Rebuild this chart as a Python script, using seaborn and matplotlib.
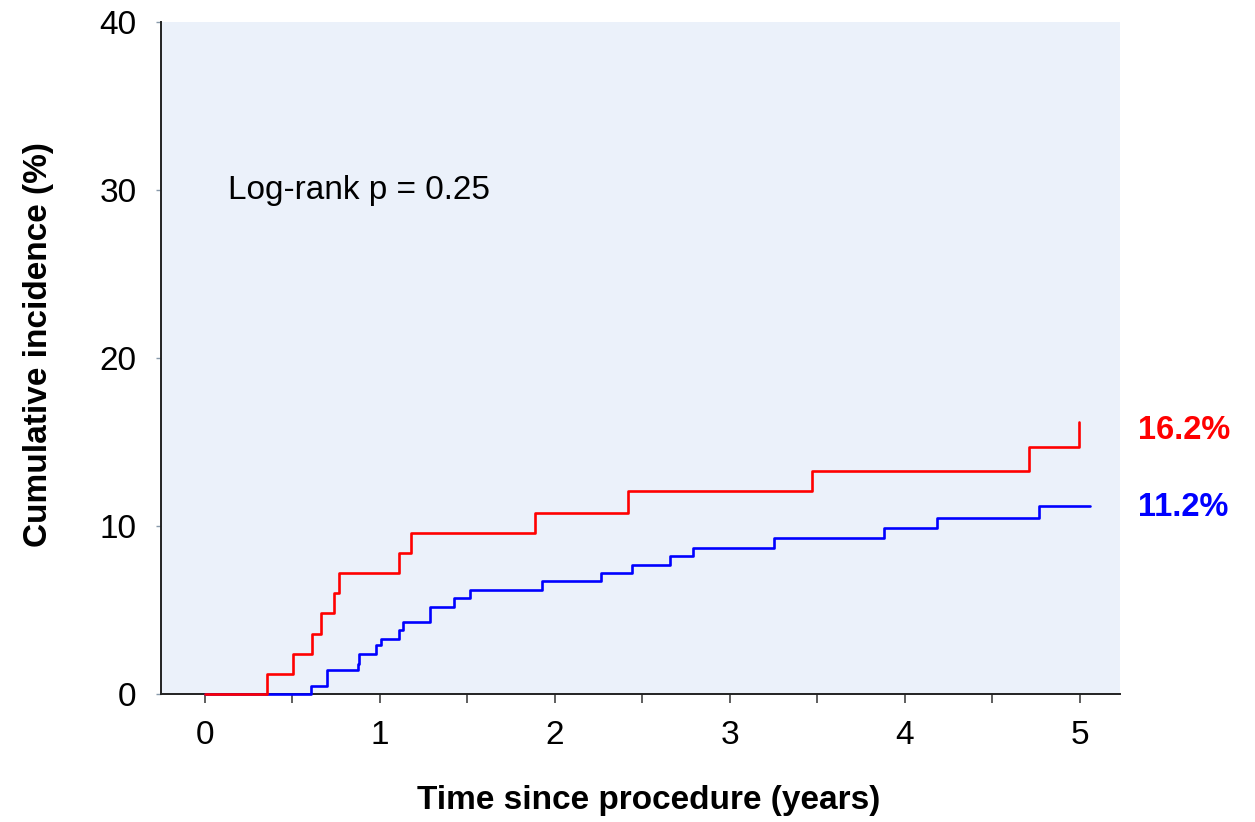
import matplotlib
matplotlib.use("Agg")
import matplotlib.pyplot as plt
from matplotlib.ticker import MultipleLocator
import seaborn as sns
import pandas as pd

# ---- data ----
red_time = [0, 0.354, 0.505, 0.613, 0.661, 0.735, 0.764, 1.11, 1.18, 1.888,
            2.42, 3.47, 4.71, 4.996]
red_inc = [0, 1.2, 2.4, 3.6, 4.8, 6.0, 7.2, 8.4, 9.6, 10.8,
           12.1, 13.3, 14.7, 16.2]

blue_time = [0, 0.608, 0.697, 0.872, 0.88, 0.979, 1.006, 1.11, 1.131, 1.286,
             1.423, 1.516, 1.924, 2.261, 2.442, 2.659, 2.79, 3.253, 3.882,
             4.185, 4.766, 5.057]
blue_inc = [0, 0.5, 1.4, 1.8, 2.4, 2.9, 3.3, 3.8, 4.3, 5.2,
            5.7, 6.2, 6.7, 7.2, 7.7, 8.2, 8.7, 9.3, 9.9,
            10.5, 11.2, 11.2]

x_ticks = [0, 1, 2, 3, 4, 5]
y_ticks = [0, 10, 20, 30, 40]
end_labels = ["16.2%", "11.2%"]
pvalue_text = "Log-rank p = 0.25"
x_label = "Time since procedure (years)"
y_label = "Cumulative incidence (%)"

df = pd.concat([
    pd.DataFrame({"t": blue_time, "inc": blue_inc, "group": "B"}),
    pd.DataFrame({"t": red_time, "inc": red_inc, "group": "A"}),
], ignore_index=True)

sns.set_style("ticks")
plt.rcParams["font.family"] = ["Liberation Sans", "DejaVu Sans"]
plt.rcParams["text.color"] = "black"
plt.rcParams["axes.labelcolor"] = "black"
plt.rcParams["xtick.labelcolor"] = "black"
plt.rcParams["ytick.labelcolor"] = "black"

fig = plt.figure(figsize=(12.55, 8.22), dpi=100)
ax = fig.add_axes([161 / 1255, 1 - 694 / 822, (1120 - 161) / 1255, (694 - 22) / 822])
ax.set_facecolor("#EBF1FA")

palette = {"A": "#FF0000", "B": "#0000FF"}
sns.lineplot(data=df, x="t", y="inc", hue="group", hue_order=["B", "A"],
             palette=palette, drawstyle="steps-post", estimator=None,
             sort=False, linewidth=1.9, legend=False, ax=ax)
for ln in ax.get_lines():
    ln.set_clip_on(False)
    ln.set_zorder(3)

ax.set_xlim(-0.2514, 5.229)
ax.set_ylim(0, 40)
ax.set_xticks(x_ticks)
ax.xaxis.set_minor_locator(MultipleLocator(0.5))
ax.set_yticks(y_ticks)

for s in ["top", "right"]:
    ax.spines[s].set_visible(False)
for s in ["left", "bottom"]:
    ax.spines[s].set_color("#222222")
    ax.spines[s].set_linewidth(1.4)

ax.tick_params(axis="x", which="both", direction="out", length=6.5, width=1.1,
               color="#333333", labelsize=24, pad=12)
ax.tick_params(axis="y", which="major", direction="out", length=3.5, width=1.0,
               color="#8899AA", labelsize=24, pad=14)

ax.set_xlabel(x_label, fontsize=24, fontweight="bold")
ax.set_ylabel(y_label, fontsize=24, fontweight="bold")
ax.xaxis.set_label_coords((649 - 161) / (1120 - 161), -(785 - 694) / (694 - 22))
ax.yaxis.set_label_coords(-(161 - 54) / (1120 - 161), (694 - 345) / (694 - 22))

ax.text(0.131, 30.0, pvalue_text, fontsize=24, ha="left", va="center")
ax.text(5.331, red_inc[-1] - 0.5, end_labels[0], color="#FF0000", fontsize=23.5,
        fontweight="bold", ha="left", va="center", clip_on=False)
ax.text(5.331, blue_inc[-1] - 0.1, end_labels[1], color="#0000FF", fontsize=23.5,
        fontweight="bold", ha="left", va="center", clip_on=False)

fig.savefig("out.png", dpi=100)
